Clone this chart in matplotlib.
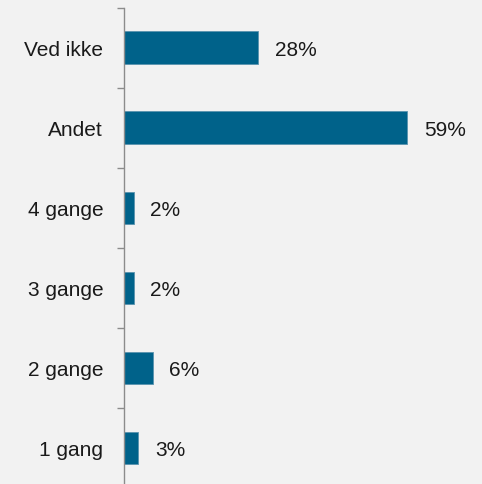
import numpy as np
import matplotlib.pyplot as plt

categories = ['1 gang', '2 gange', '3 gange', '4 gange', 'Andet', 'Ved ikke']
values = [3, 6, 2, 2, 59, 28]
labels = ['3%', '6%', '2%', '2%', '59%', '28%']

plt.rcParams['font.family'] = ['Liberation Sans', 'DejaVu Sans']

fig = plt.figure(figsize=(4.82, 4.85), dpi=100, facecolor='#F2F2F2')
ax = fig.add_axes([124 / 482, -3.5 / 485, 358 / 482, 480 / 485])
ax.set_facecolor('#F2F2F2')

y = np.arange(len(categories))
ax.barh(y, values, height=0.4, color='#00628A', edgecolor='#5A93AE', linewidth=0.6)

for yi, v, lab in zip(y, values, labels):
    ax.annotate(lab, (v, yi), xytext=(12, -1.5), textcoords='offset points',
                va='center', ha='left', fontsize=15, color='#1A1A1A')

ax.set_xlim(0, 358 / 4.8)
ax.set_ylim(-0.5, len(categories) - 0.5)

for s in ['top', 'right', 'bottom']:
    ax.spines[s].set_visible(False)
ax.spines['left'].set_color('#8C8C8C')
ax.spines['left'].set_linewidth(1)

ax.set_xticks([])
ax.set_yticks(y)
ax.set_yticklabels(categories, fontsize=15, color='#1A1A1A')
for t in ax.get_yticklabels():
    t.set_y(t.get_position()[1])
ax.tick_params(axis='y', which='major', length=0, pad=15)
ax.set_yticks(np.arange(-0.5, len(categories), 1), minor=True)
ax.tick_params(axis='y', which='minor', length=5, color='#8C8C8C', width=1)

fig.savefig('out.png', dpi=100, facecolor=fig.get_facecolor())
